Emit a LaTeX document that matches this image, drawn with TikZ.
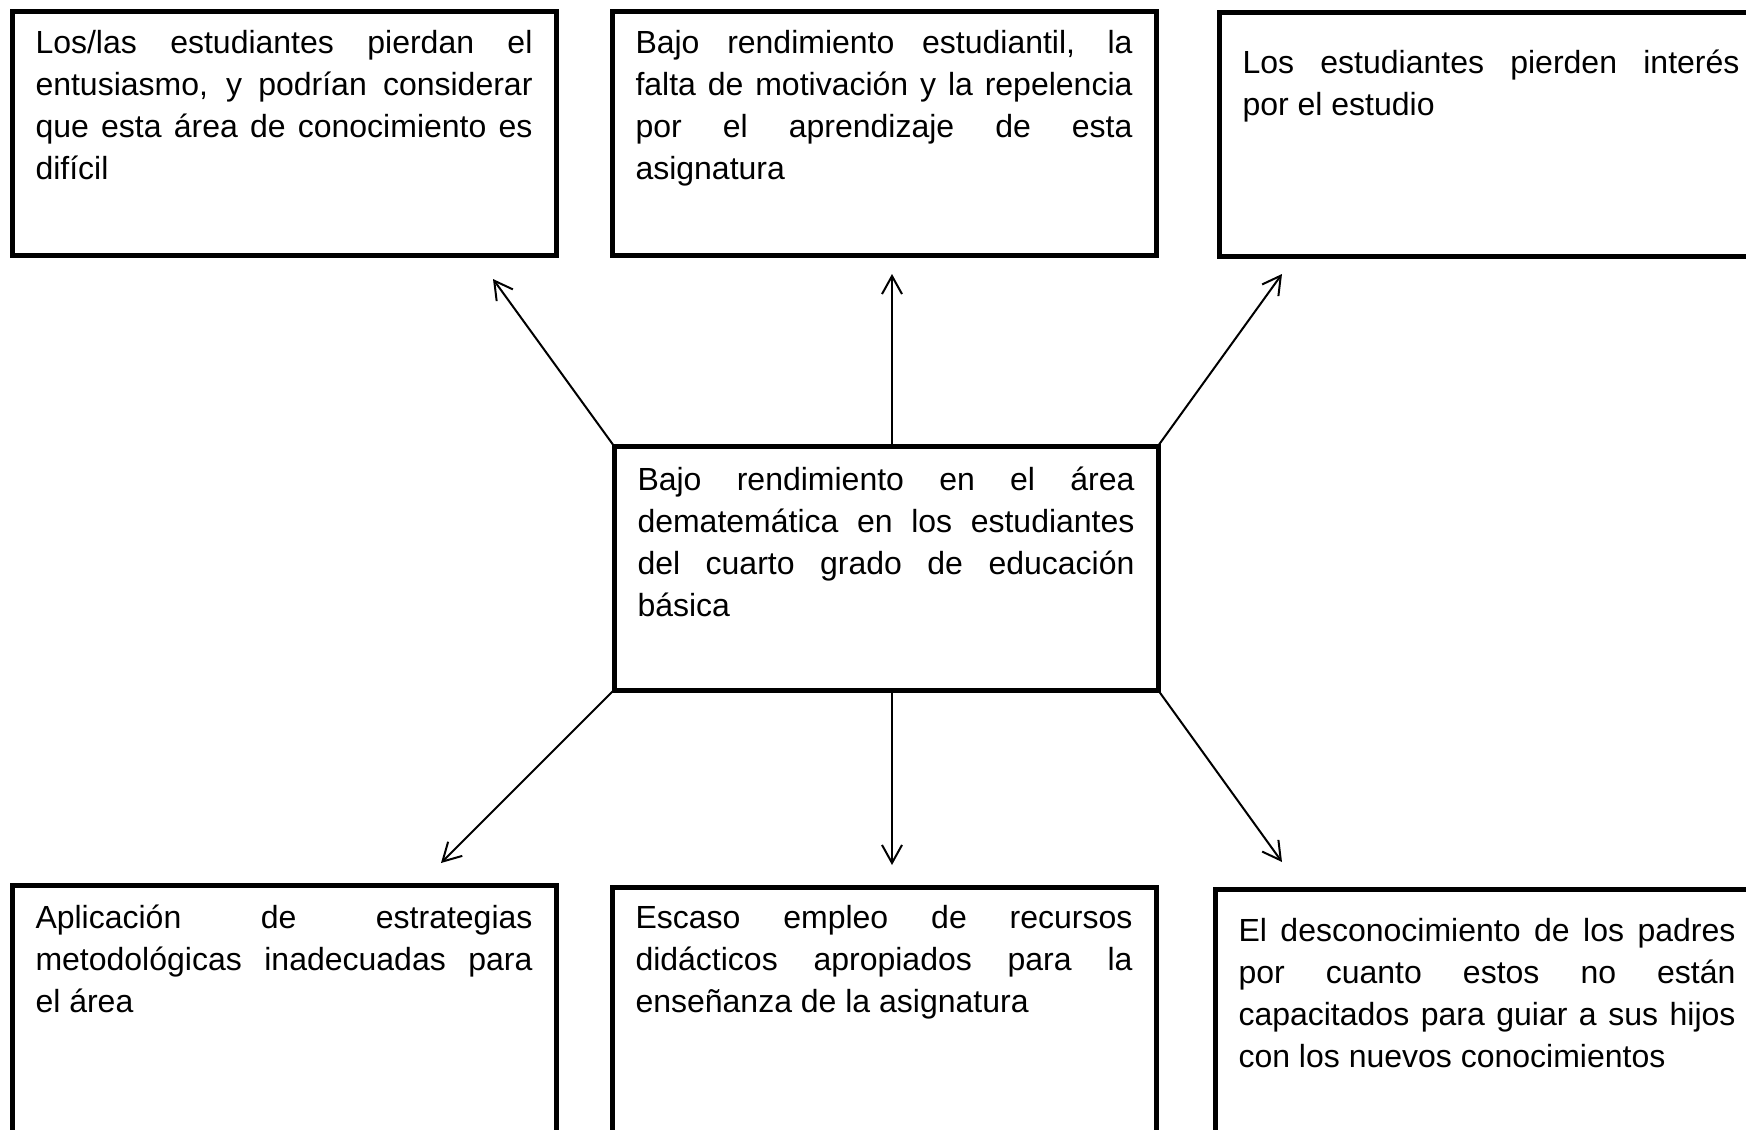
\documentclass[tikz,border=0pt]{standalone}
\usepackage{fontspec}
\setmainfont{Liberation Sans}
\usetikzlibrary{arrows.meta}

\begin{document}
\begin{tikzpicture}[x=0.5pt,y=-0.5pt]
\tikzstyle{box}=[draw,line width=2.5pt,anchor=north west,outer sep=0pt,inner xsep=11.75pt,inner ysep=0pt,text width=248.5pt,align=justify,font=\fontsize{16pt}{21pt}\selectfont]
\tikzstyle{link}=[-{Straight Barb[length=9pt,width=10pt]},line width=1pt]
    \useasboundingbox (0,0) rectangle (1746,1130);
    % problema central
    \node[box,text height=22pt,text depth=100pt] (c) at (614,446) {Bajo rendimiento en el área\linebreak dematemática en los estudiantes\linebreak del cuarto grado de educación\linebreak básica};
    % efectos
    \node[box,text height=21pt,text depth=101pt] (e1) at (12,11) {Los/las estudiantes pierdan el\linebreak entusiasmo, y podrían considerar\linebreak que esta área de conocimiento es\linebreak difícil};
    \node[box,text height=21pt,text depth=101pt] (e2) at (612,11) {Bajo rendimiento estudiantil, la\linebreak falta de motivación y la repelencia\linebreak por el aprendizaje de esta\linebreak asignatura};
    \node[box,text height=30.5pt,text depth=91.5pt] (e3) at (1219,12) {Los estudiantes pierden interés\linebreak por el estudio};
    % causas
    \node[box,text height=21.5pt,text depth=120pt] (k1) at (12,885) {Aplicación de estrategias\linebreak metodológicas inadecuadas para\linebreak el área};
    \node[box,text height=20.5pt,text depth=120pt] (k2) at (612,887) {Escaso empleo de recursos\linebreak didácticos apropiados para la\linebreak enseñanza de la asignatura};
    \node[box,text height=26pt,text depth=120pt] (k3) at (1215,889) {El desconocimiento de los padres\linebreak por cuanto estos no están\linebreak capacitados para guiar a sus hijos\linebreak con los nuevos conocimientos};
    % puntas de flecha
    \coordinate (te1) at (493,279);
    \coordinate (te2) at (892,274);
    \coordinate (te3) at (1282,274);
    \coordinate (tk1) at (441,863);
    \coordinate (tk2) at (892,865);
    \coordinate (tk3) at (1282,862);
    \draw[link] (c.north west) -- (te1);
    \draw[link] (c.north -| te2) -- (te2);
    \draw[link] (c.north east) -- (te3);
    \draw[link] (c.south west) -- (tk1);
    \draw[link] (c.south -| tk2) -- (tk2);
    \draw[link] (c.south east) -- (tk3);
\end{tikzpicture}
\end{document}
